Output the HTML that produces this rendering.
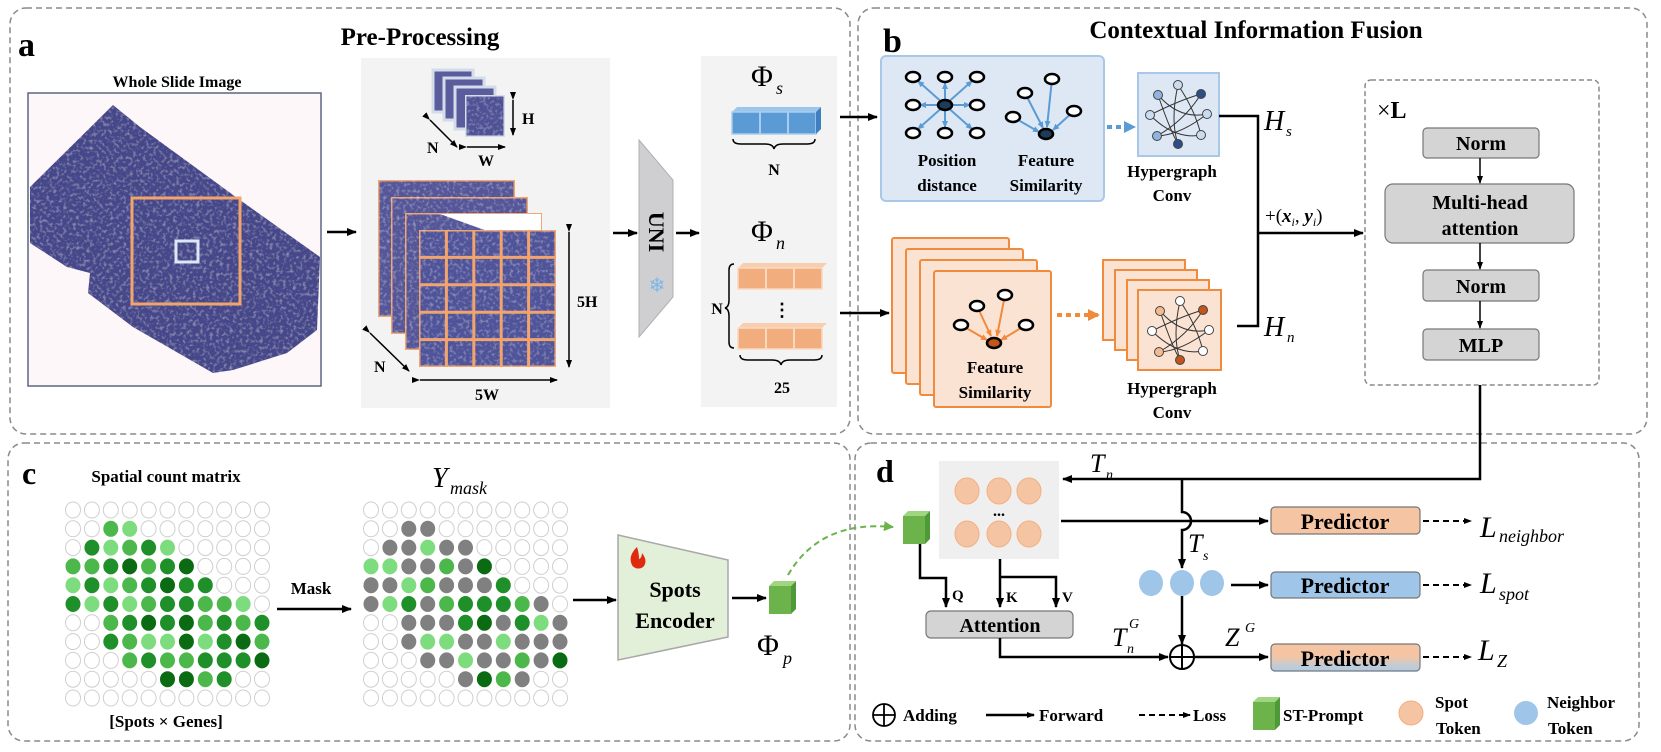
<!DOCTYPE html>
<html><head><meta charset="utf-8"><style>
html,body{margin:0;padding:0;background:#fff;}
svg{display:block;}
text{font-family:"Liberation Serif",serif;}
.b{font-weight:bold;}
.m{font-style:italic;}
</style></head><body>
<svg width="1661" height="752" viewBox="0 0 1661 752" xmlns="http://www.w3.org/2000/svg">
<defs>
<marker id="ah" markerWidth="10" markerHeight="8" refX="9" refY="4" orient="auto" markerUnits="userSpaceOnUse"><path d="M0,0 L10,4 L0,8 z" fill="#000"/></marker>
<marker id="ahs" markerWidth="8" markerHeight="6" refX="7" refY="3" orient="auto" markerUnits="userSpaceOnUse"><path d="M0,0 L8,3 L0,6 z" fill="#000"/></marker>
<marker id="ahd" markerWidth="8" markerHeight="6" refX="0" refY="3" orient="auto-start-reverse" markerUnits="userSpaceOnUse"><path d="M8,0 L0,3 L8,6 z" fill="#000"/></marker>
<marker id="ahb" markerWidth="7" markerHeight="6" refX="6" refY="3" orient="auto" markerUnits="userSpaceOnUse"><path d="M0,0 L7,3 L0,6 z" fill="#5b9bd5"/></marker>
<marker id="aho" markerWidth="7" markerHeight="6" refX="6" refY="3" orient="auto" markerUnits="userSpaceOnUse"><path d="M0,0 L7,3 L0,6 z" fill="#f08a3c"/></marker>
<marker id="ahbl" markerWidth="12" markerHeight="12" refX="10" refY="6" orient="auto" markerUnits="userSpaceOnUse"><path d="M0,0 L12,6 L0,12 z" fill="#5b9bd5"/></marker>
<marker id="ahor" markerWidth="12" markerHeight="12" refX="10" refY="6" orient="auto" markerUnits="userSpaceOnUse"><path d="M0,0 L12,6 L0,12 z" fill="#f08a3c"/></marker>
<marker id="ahg" markerWidth="10" markerHeight="10" refX="9" refY="5" orient="auto" markerUnits="userSpaceOnUse"><path d="M0,0 L10,5 L0,10 z" fill="#6bb34a"/></marker>
<filter id="tex" x="0" y="0" width="100%" height="100%">
<feTurbulence type="fractalNoise" baseFrequency="0.3" numOctaves="2" seed="3" result="n"/>
<feColorMatrix in="n" type="matrix" values="0 0 0 0 0.7  0 0 0 0 0.7  0 0 0 0 0.85  0 0 0 0.9 -0.45" result="c"/>
<feComposite in="c" in2="SourceGraphic" operator="in" result="d"/>
<feMerge><feMergeNode in="SourceGraphic"/><feMergeNode in="d"/></feMerge>
</filter>
<linearGradient id="pg" x1="0" y1="0" x2="0" y2="1"><stop offset="0" stop-color="#f5c5a3"/><stop offset="0.45" stop-color="#f5c5a3"/><stop offset="1" stop-color="#a9cdec"/></linearGradient>
<g id="gcube"><path d="M0,5 L5,0 L27,0 L22,5 z" fill="#9fd67f"/><path d="M22,5 L27,0 L27,28 L22,33 z" fill="#4f9a38"/><rect x="0" y="5" width="22" height="28" fill="#6bb34a"/></g>
</defs>

<g fill="none" stroke="#8a8a8a" stroke-width="1.5" stroke-dasharray="6,4">
<rect x="10" y="8" width="840" height="426" rx="16"/>
<rect x="858" y="8" width="789" height="426" rx="16"/>
<rect x="8" y="443" width="842" height="298" rx="16"/>
<rect x="855" y="443" width="784" height="298" rx="16"/>
</g>

<!-- ===== Panel a ===== -->
<text x="18" y="56" class="b" font-size="34">a</text>
<text x="420" y="45" class="b" font-size="25" text-anchor="middle">Pre-Processing</text>
<text x="177" y="87" class="b" font-size="16" text-anchor="middle">Whole Slide Image</text>
<rect x="28" y="93" width="293" height="293" fill="#fdf7fa" stroke="#5a6780" stroke-width="1.5"/>
<polygon points="113,105 30,187 30,243 67,267 90,273 88,293 133,327 213,373 233,370 287,353 317,330 320,257 240,200 140,127" fill="#45478a" filter="url(#tex)"/>
<rect x="132" y="198" width="108" height="106" fill="none" stroke="#f2a46c" stroke-width="3"/>
<rect x="176" y="241" width="22" height="21" fill="none" stroke="#dbe8f5" stroke-width="3"/>
<line x1="327" y1="232" x2="356" y2="232" stroke="#000" stroke-width="2.5" marker-end="url(#ah)"/>

<rect x="361" y="58" width="249" height="350" fill="#f3f3f3"/>
<g stroke="#d3dde8" stroke-width="3">
<rect x="433" y="70" width="40" height="42" fill="#5a5c9e"/>
<rect x="444" y="78" width="40" height="42" fill="#5a5c9e"/>
<rect x="455" y="87" width="40" height="42" fill="#5a5c9e"/>
<rect x="465" y="95" width="40" height="42" fill="#4f5196" filter="url(#tex)"/>
</g>
<line x1="513" y1="100" x2="513" y2="135" stroke="#000" stroke-width="1.5" marker-start="url(#ahd)" marker-end="url(#ahs)"/>
<text x="522" y="124" class="b" font-size="16">H</text>
<line x1="430" y1="120" x2="457" y2="147" stroke="#000" stroke-width="1.5" marker-start="url(#ahd)" marker-end="url(#ahs)"/>
<text x="427" y="153" class="b" font-size="16">N</text>
<line x1="467" y1="147" x2="505" y2="147" stroke="#000" stroke-width="1.5" marker-start="url(#ahd)" marker-end="url(#ahs)"/>
<text x="486" y="166" class="b" font-size="16" text-anchor="middle">W</text>
<g stroke="#f2a46c" stroke-width="3">
<rect x="378" y="180" width="137" height="137" fill="#55579a" filter="url(#tex)"/>
<rect x="391" y="197" width="137" height="137" fill="#55579a" filter="url(#tex)"/>
<rect x="405" y="213" width="137" height="137" fill="#55579a" filter="url(#tex)"/>
<polygon points="440,214 541,214 541,232 490,232" fill="#fff" stroke="none"/>
<rect x="419" y="230" width="137" height="137" fill="#50529a" filter="url(#tex)"/>
<path d="M446.4,230V367M473.8,230V367M501.2,230V367M528.6,230V367M419,257.4H556M419,284.8H556M419,312.2H556M419,339.6H556" fill="none"/>
</g>
<line x1="569" y1="232" x2="569" y2="367" stroke="#000" stroke-width="1.5" marker-start="url(#ahd)" marker-end="url(#ahs)"/>
<text x="577" y="307" class="b" font-size="16">5H</text>
<line x1="420" y1="380" x2="557" y2="380" stroke="#000" stroke-width="1.5" marker-start="url(#ahd)" marker-end="url(#ahs)"/>
<text x="487" y="400" class="b" font-size="16" text-anchor="middle">5W</text>
<line x1="370" y1="333" x2="409" y2="371" stroke="#000" stroke-width="1.5" marker-start="url(#ahd)" marker-end="url(#ahs)"/>
<text x="374" y="372" class="b" font-size="16">N</text>

<line x1="613" y1="233" x2="637" y2="233" stroke="#000" stroke-width="2.5" marker-end="url(#ah)"/>
<polygon points="639,140 673,180 673,297 639,337" fill="#cfcfd1" stroke="#b0b0b4"/>
<text x="0" y="0" class="b" font-size="22" text-anchor="middle" transform="translate(649,232) rotate(90)">UNI</text>
<text x="657" y="292" font-size="20" fill="#7fb6e6" text-anchor="middle" font-family="DejaVu Sans">❄</text>
<line x1="676" y1="233" x2="699" y2="233" stroke="#000" stroke-width="2.5" marker-end="url(#ah)"/>

<rect x="701" y="56" width="136" height="351" fill="#f3f3f3"/>
<text x="762" y="86" font-size="30" text-anchor="middle">Φ</text><text x="776" y="94" class="m" font-size="18">s</text>
<g>
<path d="M732,112 L737,107 L821,107 L816,112 z" fill="#9cc6ec"/>
<rect x="732" y="112" width="84" height="22" fill="#5b9bd5" stroke="#a9cdef" stroke-width="1.5"/>
<path d="M760,112V134M788,112V134" stroke="#a9cdef" stroke-width="2"/>
<path d="M816,112 L821,107 L821,129 L816,134z" fill="#3f7fbf"/>
</g>
<path d="M733,139 q0,5 8,5 h24 q8,0 9,5 q1,-5 9,-5 h24 q8,0 8,-5" fill="none" stroke="#000" stroke-width="1.5"/>
<text x="774" y="175" class="b" font-size="16" text-anchor="middle">N</text>
<text x="762" y="241" font-size="30" text-anchor="middle">Φ</text><text x="776" y="249" class="m" font-size="18">n</text>
<g>
<path d="M738,268 L743,263 L827,263 L822,268 z" fill="#f7cfae"/>
<rect x="738" y="268" width="84" height="21" fill="#f2ad7e" stroke="#fbd9bf" stroke-width="1.5"/>
<path d="M766,268V289M794,268V289" stroke="#fbd9bf" stroke-width="2"/>
<path d="M738,328 L743,323 L827,323 L822,328 z" fill="#f7cfae"/>
<rect x="738" y="328" width="84" height="21" fill="#f2ad7e" stroke="#fbd9bf" stroke-width="1.5"/>
<path d="M766,328V349M794,328V349" stroke="#fbd9bf" stroke-width="2"/>
</g>
<text x="782" y="316" class="b" font-size="18" text-anchor="middle">⋮</text>
<path d="M734,264 q-5,0 -5,6 v30 q0,7 -4,8 q4,1 4,8 v26 q0,6 5,6" fill="none" stroke="#000" stroke-width="1.5"/>
<text x="717" y="314" class="b" font-size="16" text-anchor="middle">N</text>
<path d="M740,355 q0,5 8,5 h24 q8,0 9,5 q1,-5 9,-5 h24 q8,0 8,-5" fill="none" stroke="#000" stroke-width="1.5"/>
<text x="782" y="393" class="b" font-size="16" text-anchor="middle">25</text>

<!-- ===== Panel b ===== -->
<text x="883" y="52" class="b" font-size="34">b</text>
<text x="1256" y="38" class="b" font-size="25" text-anchor="middle">Contextual Information Fusion</text>
<line x1="840" y1="117" x2="877" y2="117" stroke="#000" stroke-width="2.5" marker-end="url(#ah)"/>
<line x1="840" y1="313" x2="889" y2="313" stroke="#000" stroke-width="2.5" marker-end="url(#ah)"/>
<rect x="881" y="56" width="223" height="145" rx="5" fill="#dde8f4" stroke="#a9c8e8" stroke-width="2"/>
<g stroke="#5b9bd5" stroke-width="2" marker-end="url(#ahb)">
<line x1="945" y1="105" x2="918" y2="81"/><line x1="945" y1="105" x2="945" y2="83"/><line x1="945" y1="105" x2="972" y2="81"/>
<line x1="945" y1="105" x2="920" y2="105"/><line x1="945" y1="105" x2="970" y2="105"/>
<line x1="945" y1="105" x2="918" y2="129"/><line x1="945" y1="105" x2="945" y2="127"/><line x1="945" y1="105" x2="972" y2="129"/>
<line x1="1025" y1="93" x2="1043" y2="128"/><line x1="1052" y1="79" x2="1047" y2="127"/><line x1="1013" y1="117" x2="1039" y2="132"/><line x1="1074" y1="111" x2="1053" y2="130"/>
</g>
<g fill="#fff" stroke="#000" stroke-width="2.5">
<ellipse cx="913" cy="77" rx="7" ry="5"/><ellipse cx="945" cy="77" rx="7" ry="5"/><ellipse cx="977" cy="77" rx="7" ry="5"/>
<ellipse cx="913" cy="105" rx="7" ry="5"/><ellipse cx="977" cy="105" rx="7" ry="5"/>
<ellipse cx="913" cy="133" rx="7" ry="5"/><ellipse cx="945" cy="133" rx="7" ry="5"/><ellipse cx="977" cy="133" rx="7" ry="5"/>
<ellipse cx="945" cy="105" rx="7" ry="5" fill="#1f3b5a"/>
<ellipse cx="1052" cy="79" rx="7" ry="5"/><ellipse cx="1025" cy="93" rx="7" ry="5"/><ellipse cx="1013" cy="117" rx="7" ry="5"/><ellipse cx="1074" cy="111" rx="7" ry="5"/>
<ellipse cx="1046" cy="134" rx="7" ry="5" fill="#1f3b5a"/>
</g>
<g font-size="17" text-anchor="middle" font-weight="bold">
<text x="947" y="166">Position</text><text x="947" y="191">distance</text>
<text x="1046" y="166">Feature</text><text x="1046" y="191">Similarity</text>
</g>
<line x1="1107" y1="127" x2="1134" y2="127" stroke="#5b9bd5" stroke-width="4" stroke-dasharray="5,4" marker-end="url(#ahbl)"/>
<rect x="1138" y="73" width="81" height="83" fill="#dde8f4" stroke="#a9c8e8" stroke-width="2"/>
<g fill="none" stroke="#333" stroke-width="1">
<path d="M1158,95 Q1180,120 1207,114"/><path d="M1178,85 Q1170,120 1178,144"/><path d="M1150,115 Q1180,100 1201,94"/>
<path d="M1157,136 Q1185,120 1201,94"/><path d="M1150,115 Q1175,140 1201,135"/><path d="M1157,136 Q1180,135 1207,114"/>
<path d="M1158,95 Q1170,130 1178,144"/><path d="M1178,85 Q1195,110 1201,135"/>
</g>
<g stroke="#444" stroke-width="1">
<circle cx="1178" cy="85" r="4.5" fill="#c9dcf0"/><circle cx="1158" cy="95" r="4.5" fill="#8fb4df"/><circle cx="1201" cy="94" r="4.5" fill="#2c4f85"/>
<circle cx="1150" cy="115" r="4.5" fill="#c9dcf0"/><circle cx="1207" cy="114" r="4.5" fill="#c9dcf0"/><circle cx="1157" cy="136" r="4.5" fill="#8fb4df"/>
<circle cx="1178" cy="144" r="4.5" fill="#2c4f85"/><circle cx="1201" cy="135" r="4.5" fill="#c9dcf0"/>
</g>
<g font-size="17" text-anchor="middle" font-weight="bold">
<text x="1172" y="177">Hypergraph</text><text x="1172" y="201">Conv</text>
</g>
<g fill="#fbe3d3" stroke="#f08a3c" stroke-width="2">
<rect x="892" y="238" width="117" height="135" rx="2"/>
<rect x="906" y="249" width="117" height="135" rx="2"/>
<rect x="920" y="260" width="117" height="135" rx="2"/>
<rect x="934" y="271" width="117" height="136" rx="2"/>
</g>
<g stroke="#f08a3c" stroke-width="2" marker-end="url(#aho)">
<line x1="1005" y1="295" x2="997" y2="336"/><line x1="977" y1="306" x2="991" y2="336"/><line x1="961" y1="325" x2="987" y2="340"/><line x1="1026" y1="325" x2="1001" y2="340"/>
</g>
<g fill="#fff" stroke="#000" stroke-width="2.5">
<ellipse cx="1005" cy="295" rx="7" ry="5"/><ellipse cx="977" cy="306" rx="7" ry="5"/><ellipse cx="961" cy="325" rx="7" ry="5"/><ellipse cx="1026" cy="325" rx="7" ry="5"/>
<ellipse cx="994" cy="343" rx="7" ry="5" fill="#c0561a"/>
</g>
<g font-size="17" text-anchor="middle" font-weight="bold"><text x="995" y="373">Feature</text><text x="995" y="398">Similarity</text></g>
<line x1="1057" y1="315" x2="1098" y2="315" stroke="#f08a3c" stroke-width="4" stroke-dasharray="5,4" marker-end="url(#ahor)"/>
<g fill="#fbe3d3" stroke="#f08a3c" stroke-width="2">
<rect x="1103" y="260" width="82" height="80"/>
<rect x="1115" y="270" width="82" height="80"/>
<rect x="1127" y="280" width="82" height="80"/>
<rect x="1138" y="290" width="83" height="80"/>
</g>
<g transform="translate(2,216)">
<g fill="none" stroke="#333" stroke-width="1">
<path d="M1158,95 Q1180,120 1207,114"/><path d="M1178,85 Q1170,120 1178,144"/><path d="M1150,115 Q1180,100 1201,94"/>
<path d="M1157,136 Q1185,120 1201,94"/><path d="M1150,115 Q1175,140 1201,135"/><path d="M1157,136 Q1180,135 1207,114"/>
<path d="M1158,95 Q1170,130 1178,144"/><path d="M1178,85 Q1195,110 1201,135"/>
</g>
<g stroke="#444" stroke-width="1">
<circle cx="1178" cy="85" r="4.5" fill="#fff"/><circle cx="1158" cy="95" r="4.5" fill="#f5b98f"/><circle cx="1201" cy="94" r="4.5" fill="#c0561a"/>
<circle cx="1150" cy="115" r="4.5" fill="#fff"/><circle cx="1207" cy="114" r="4.5" fill="#fff"/><circle cx="1157" cy="136" r="4.5" fill="#f5b98f"/>
<circle cx="1178" cy="144" r="4.5" fill="#c0561a"/><circle cx="1201" cy="135" r="4.5" fill="#fff"/>
</g>
</g>
<g font-size="17" text-anchor="middle" font-weight="bold"><text x="1172" y="394">Hypergraph</text><text x="1172" y="418">Conv</text></g>
<path d="M1219,116 H1258 V326 H1237" fill="none" stroke="#000" stroke-width="2.5"/>
<line x1="1258" y1="233" x2="1363" y2="233" stroke="#000" stroke-width="2.5" marker-end="url(#ah)"/>
<text x="1264" y="130" class="m" font-size="28">H</text><text x="1286" y="136" class="m" font-size="15">s</text>
<text x="1264" y="336" class="m" font-size="28">H</text><text x="1287" y="342" class="m" font-size="15">n</text>
<text x="1265" y="222" font-size="19">+(<tspan font-weight="bold" font-style="italic">x</tspan><tspan font-style="italic" font-size="12" dy="4">i</tspan><tspan dy="-4">, </tspan><tspan font-weight="bold" font-style="italic">y</tspan><tspan font-style="italic" font-size="12" dy="4">i</tspan><tspan dy="-4">)</tspan></text>
<rect x="1365" y="80" width="234" height="305" rx="6" fill="none" stroke="#8a8a8a" stroke-width="1.5" stroke-dasharray="5,3"/>
<text x="1377" y="118" font-size="24">×<tspan font-weight="bold">L</tspan></text>
<g fill="#d4d4d4" stroke="#777" stroke-width="1.2">
<rect x="1423" y="128" width="116" height="30" rx="4"/>
<rect x="1385" y="184" width="189" height="59" rx="8"/>
<rect x="1423" y="270" width="116" height="31" rx="4"/>
<rect x="1423" y="329" width="116" height="31" rx="4"/>
</g>
<g font-size="20" text-anchor="middle" font-weight="bold">
<text x="1481" y="150">Norm</text><text x="1480" y="209">Multi-head</text><text x="1480" y="235">attention</text>
<text x="1481" y="293">Norm</text><text x="1481" y="352">MLP</text>
</g>
<g stroke="#000" stroke-width="1.5" marker-end="url(#ahs)">
<line x1="1480" y1="158" x2="1480" y2="183"/><line x1="1480" y1="243" x2="1480" y2="269"/><line x1="1480" y1="301" x2="1480" y2="328"/>
</g>

<!-- ===== Panel c ===== -->
<text x="22" y="484" class="b" font-size="32">c</text>
<text x="166" y="482" class="b" font-size="17" text-anchor="middle">Spatial count matrix</text>
<g id="grids"></g>
<text x="166" y="727" class="b" font-size="17" text-anchor="middle">[Spots × Genes]</text>
<text x="311" y="594" class="b" font-size="17" text-anchor="middle">Mask</text>
<line x1="277" y1="609" x2="351" y2="609" stroke="#000" stroke-width="2.5" marker-end="url(#ah)"/>
<text x="432" y="487" class="m" font-size="28">Y</text><text x="450" y="494" class="m" font-size="18">mask</text>
<line x1="573" y1="600" x2="616" y2="600" stroke="#000" stroke-width="2.5" marker-end="url(#ah)"/>
<polygon points="618,535 728,560 728,637 618,660" fill="#e2efd9" stroke="#a8a8a8" stroke-width="1.5"/>
<path d="M637,547 c-6,6 -8,12 -5,18 c2,4 9,5 12,1 c3,-5 1,-9 -2,-13 c0,4 -2,6 -3,6 c0,-5 -1,-9 -2,-12 z" fill="#e02a10"/>
<g font-size="22" text-anchor="middle" font-weight="bold"><text x="675" y="597">Spots</text><text x="675" y="628">Encoder</text></g>
<line x1="732" y1="598" x2="766" y2="598" stroke="#000" stroke-width="2.5" marker-end="url(#ah)"/>
<use href="#gcube" transform="translate(769,581)"/>
<text x="768" y="655" font-size="30" text-anchor="middle">Φ</text><text x="783" y="664" class="m" font-size="18">p</text>
<path d="M788,575 Q820,520 893,527" fill="none" stroke="#6bb34a" stroke-width="2" stroke-dasharray="6,4" marker-end="url(#ahg)"/>

<!-- ===== Panel d ===== -->
<text x="876" y="482" class="b" font-size="32">d</text>
<path d="M1480,385 V479 H1063" fill="none" stroke="#000" stroke-width="2.5" marker-end="url(#ah)"/>
<text x="1090" y="472" class="m" font-size="26">T</text><text x="1106" y="479" class="m" font-size="14">n</text>
<rect x="939" y="461" width="120" height="98" fill="#efefef"/>
<g fill="#f5c5a3" stroke="#f2ae80" stroke-width="1">
<ellipse cx="967" cy="491" rx="12" ry="13"/><ellipse cx="999" cy="491" rx="12" ry="13"/><ellipse cx="1029" cy="491" rx="12" ry="13"/>
<ellipse cx="967" cy="534" rx="12" ry="13"/><ellipse cx="999" cy="534" rx="12" ry="13"/><ellipse cx="1029" cy="534" rx="12" ry="13"/>
</g>
<text x="999" y="516" class="b" font-size="16" text-anchor="middle">...</text>
<use href="#gcube" transform="translate(903,511)"/>
<line x1="1061" y1="521" x2="1268" y2="521" stroke="#000" stroke-width="2.5" marker-end="url(#ah)"/>
<path d="M1182,479 V512 A9,9 0 0 1 1182,530 V568" fill="none" stroke="#000" stroke-width="2.5" marker-end="url(#ah)"/>
<text x="1188" y="552" class="m" font-size="26">T</text><text x="1203" y="560" class="m" font-size="14">s</text>
<g fill="#9fc5e8"><ellipse cx="1151" cy="583" rx="12" ry="13"/><ellipse cx="1182" cy="583" rx="12" ry="13"/><ellipse cx="1212" cy="583" rx="12" ry="13"/></g>
<line x1="1231" y1="585" x2="1268" y2="585" stroke="#000" stroke-width="2.5" marker-end="url(#ah)"/>
<line x1="1182" y1="596" x2="1182" y2="644" stroke="#000" stroke-width="2.5" marker-end="url(#ah)"/>
<circle cx="1182" cy="657" r="12" fill="#fff" stroke="#000" stroke-width="2"/>
<path d="M1170,657H1194M1182,645V669" stroke="#000" stroke-width="2"/>
<line x1="1194" y1="657" x2="1268" y2="657" stroke="#000" stroke-width="2.5" marker-end="url(#ah)"/>
<path d="M920,544 V578 H946 V607" fill="none" stroke="#000" stroke-width="2.5" marker-end="url(#ah)"/>
<path d="M1000,559 V607" fill="none" stroke="#000" stroke-width="2.5" marker-end="url(#ah)"/>
<path d="M1000,577 H1056 V607" fill="none" stroke="#000" stroke-width="2.5" marker-end="url(#ah)"/>
<g font-size="15" font-weight="bold"><text x="952" y="600">Q</text><text x="1006" y="602">K</text><text x="1062" y="602">V</text></g>
<rect x="926" y="611" width="147" height="27" rx="5" fill="#d4d4d4" stroke="#777" stroke-width="1.2"/>
<text x="1000" y="632" font-size="20" text-anchor="middle" font-weight="bold">Attention</text>
<path d="M1000,638 V657 H1168" fill="none" stroke="#000" stroke-width="2.5" marker-end="url(#ah)"/>
<text x="1112" y="646" class="m" font-size="26">T</text><text x="1129" y="628" class="m" font-size="14">G</text><text x="1127" y="653" class="m" font-size="14">n</text>
<text x="1225" y="646" class="m" font-size="26">Z</text><text x="1245" y="632" class="m" font-size="14">G</text>
<rect x="1271" y="507" width="149" height="27" rx="4" fill="#f5c5a3" stroke="#777" stroke-width="1.2"/>
<rect x="1271" y="572" width="149" height="26" rx="4" fill="#9fc5e8" stroke="#777" stroke-width="1.2"/>
<rect x="1271" y="644" width="149" height="27" rx="4" fill="url(#pg)" stroke="#777" stroke-width="1.2"/>
<g font-size="22" text-anchor="middle" font-weight="bold"><text x="1345" y="529">Predictor</text><text x="1345" y="593">Predictor</text><text x="1345" y="666">Predictor</text></g>
<g stroke="#000" stroke-width="2" stroke-dasharray="6,4" marker-end="url(#ahs)">
<line x1="1423" y1="521" x2="1471" y2="521"/><line x1="1423" y1="585" x2="1471" y2="585"/><line x1="1423" y1="657" x2="1471" y2="657"/>
</g>
<text x="1480" y="537" class="m" font-size="30">L</text><text x="1499" y="542" class="m" font-size="18">neighbor</text>
<text x="1480" y="593" class="m" font-size="30">L</text><text x="1499" y="600" class="m" font-size="18">spot</text>
<text x="1478" y="660" class="m" font-size="30">L</text><text x="1497" y="667" class="m" font-size="18">Z</text>
<circle cx="884" cy="715" r="11" fill="#fff" stroke="#000" stroke-width="1.8"/>
<path d="M873,715H895M884,704V726" stroke="#000" stroke-width="1.8"/>
<text x="903" y="721" font-size="17" font-weight="bold">Adding</text>
<line x1="986" y1="715" x2="1034" y2="715" stroke="#000" stroke-width="2.5" marker-end="url(#ahs)"/>
<text x="1039" y="721" font-size="17" font-weight="bold">Forward</text>
<line x1="1139" y1="715" x2="1190" y2="715" stroke="#000" stroke-width="2" stroke-dasharray="6,4" marker-end="url(#ahs)"/>
<text x="1193" y="721" font-size="17" font-weight="bold">Loss</text>
<use href="#gcube" transform="translate(1253,697)"/>
<text x="1283" y="721" font-size="17" font-weight="bold">ST-Prompt</text>
<circle cx="1411" cy="713" r="12" fill="#f5c5a3" stroke="#f2ae80"/>
<text x="1435" y="708" font-size="17" font-weight="bold">Spot</text><text x="1436" y="734" font-size="17" font-weight="bold">Token</text>
<circle cx="1526" cy="713" r="12" fill="#9fc5e8"/>
<text x="1547" y="708" font-size="17" font-weight="bold">Neighbor</text><text x="1548" y="734" font-size="17" font-weight="bold">Token</text>
</svg>
<script>
(function(){
var C={'.':null,l:'#7ddc7d',m:'#4cb84c',d:'#1f8f2a',k:'#0a6b12',g:'#808080'};
var g1=["...........","..ml.......",".dlmdl.....","mmdkmdk....","ldlmdkdd...","dldlmddmml.","..mdkdkmdmd","..dmllkldkm","...mdmmdddk",".....kkmd..","..........."];
var g2=["...........","..gg.......",".gglgg.....","llggmgk....","gglmgggd...","gldgmdddmg.","..gggdkgdlg","..gllgglggg","...gglggmgk",".....gkmg..","..........."];
var ns="http://www.w3.org/2000/svg",root=document.getElementById('grids');
function draw(p,x0){for(var r=0;r<11;r++)for(var c=0;c<11;c++){var e=document.createElementNS(ns,'ellipse');var ch=p[r][c];e.setAttribute('cx',x0+c*18.9);e.setAttribute('cy',510+r*18.8);e.setAttribute('rx',7.5);e.setAttribute('ry',8);if(C[ch]){e.setAttribute('fill',C[ch]);}else{e.setAttribute('fill','#fff');e.setAttribute('stroke','#cfcfcf');e.setAttribute('stroke-width','1');}root.appendChild(e);}}
draw(g1,73);draw(g2,371);
})();
</script>
</body></html>
